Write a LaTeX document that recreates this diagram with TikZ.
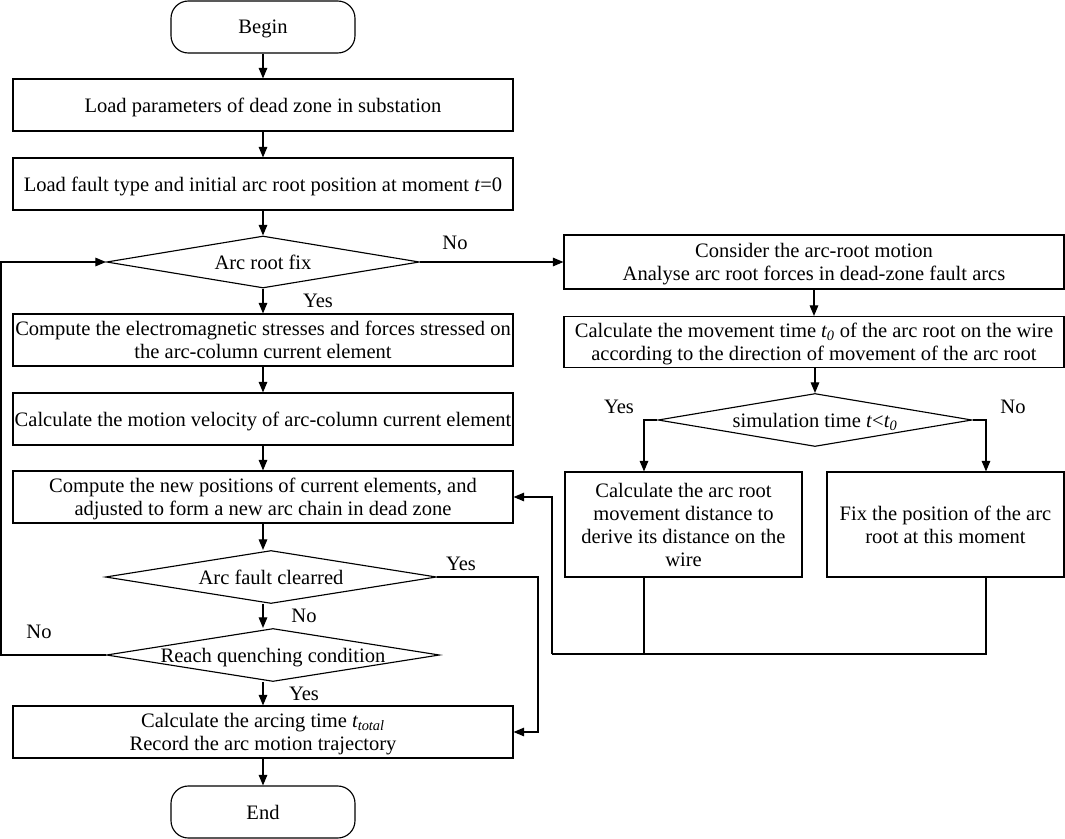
\documentclass[tikz,border=0pt]{standalone}
\usepackage{fontspec}
\setmainfont{Liberation Serif}
\usetikzlibrary{shapes.geometric,arrows.meta}
\newcommand{\fs}{\fontsize{15.4pt}{17.3pt}\selectfont}
\begin{document}
\begin{tikzpicture}[x=0.75pt,y=-0.75pt,
  bw/.style={minimum width=#1*0.75pt},
  bh/.style={minimum height=#1*0.75pt},
  base/.style={draw, line width=0.85pt, inner sep=0pt, align=center, font=\fs, text depth=0pt},
  box/.style={base, rectangle},
  term/.style={base, rectangle, rounded corners=13pt, bw=184, bh=52},
  dia/.style={base, diamond},
  arr/.style={line width=0.85pt, -{Triangle[length=8pt,width=6.5pt]}},
  ln/.style={line width=0.85pt},
  lab/.style={font=\fs, inner sep=0pt}]
\useasboundingbox (0,0) rectangle (1065,839);

% left column
\node[term] (begin) at (263,27) {Begin};
\node[box, bw=500, bh=52] (b1) at (263,105) {Load parameters of dead zone in substation};
\node[box, bw=500, bh=52] (b2) at (263,184) {Load fault type and initial arc root position at moment \textit{t}=0};
\node[dia, bw=313, bh=52] (d1) at (263,262) {\makebox[0pt]{Arc root fix}};
\node[box, bw=500, bh=52] (b3) at (263,340) {Compute the electromagnetic stresses and forces stressed on\\the arc-column current element};
\node[box, bw=500, bh=52] (b4) at (263,419) {Calculate the motion velocity of arc-column current element};
\node[box, bw=500, bh=52] (b5) at (263,497) {Compute the new positions of current elements, and\\adjusted to form a new arc chain in dead zone};
\node[dia, bw=331, bh=53] (d2) at (271,577) {\makebox[0pt]{Arc fault clearred}};
\node[dia, bw=333, bh=53] (d3) at (273,655) {\makebox[0pt]{Reach quenching condition}};
\node[box, bw=500, bh=52] (b6) at (263,732) {Calculate the arcing time \textit{t\textsubscript{total}}\\Record the arc motion trajectory};
\node[term] (end) at (263,812) {End};

% right column
\node[box, bw=500, bh=54] (r1) at (814,262) {Consider the arc-root motion\\Analyse arc root forces in dead-zone fault arcs};
\node[box, bw=500, bh=51] (r2) at (814,342) {Calculate the movement time \textit{t\textsubscript{0}} of the arc root on the wire\\according to the direction of movement of the arc root};
\node[dia, bw=314, bh=53] (d4) at (815,420) {\makebox[0pt]{simulation time \textit{t}<\textit{t\textsubscript{0}}}};
\node[box, bw=237, bh=105] (r3) at (683.5,524.5) {Calculate the arc root\\movement distance to\\derive its distance on the\\wire};
\node[box, bw=237, bh=105] (r4) at (945.5,524.5) {Fix the position of the arc\\root at this moment};

% helper coordinates
\coordinate (yl) at (644,420);
\coordinate (nr) at (986,420);
\coordinate (j1) at (644,654);
\coordinate (j2) at (986,654);
\coordinate (j3) at (552,654);
\coordinate (k1) at (538,577);
\coordinate (k2) at (1,655);

% connectors
\draw[arr] (begin) -- (b1);
\draw[arr] (b1) -- (b2);
\draw[arr] (b2) -- (d1);
\draw[arr] (d1) -- (b3);
\draw[arr] (b3) -- (b4);
\draw[arr] (b4) -- (b5);
\draw[arr] (b5.south) -- (b5.south |- d2.north);
\draw[arr] (d2.south -| b5.south) -- (d3.north -| b5.south);
\draw[arr] (d3.south -| b6.north) -- (b6.north);
\draw[arr] (b6) -- (end);
\draw[arr] (d1.east) -- (r1.west);
\draw[arr] (r1) -- (r2);
\draw[arr] (r2.south -| d4.north) -- (d4.north);
\draw[arr] (d4.west) -- (yl) -- (yl |- r3.north);
\draw[arr] (d4.east) -- (nr) -- (nr |- r4.north);
\draw[ln] (j1 |- r3.south) -- (j1);
\draw[ln] (j2 |- r4.south) -- (j2) -- (j3);
\draw[arr] (j3) |- (b5.east);
\draw[arr] (d2.east) -- (k1) |- (b6.east);
\draw[arr] (d3.west) -- (k2) |- (d1.west);

% labels
\node[lab] (l1) at (455,243) {No};
\node[lab] (l2) at (318,301) {Yes};
\node[lab] (l3) at (461,564) {Yes};
\node[lab] (l4) at (304,616) {No};
\node[lab] (l5) at (39,632) {No};
\node[lab] (l6) at (304,694) {Yes};
\node[lab] (l7) at (619,407) {Yes};
\node[lab] (l8) at (1013,407) {No};
\end{tikzpicture}
\end{document}
